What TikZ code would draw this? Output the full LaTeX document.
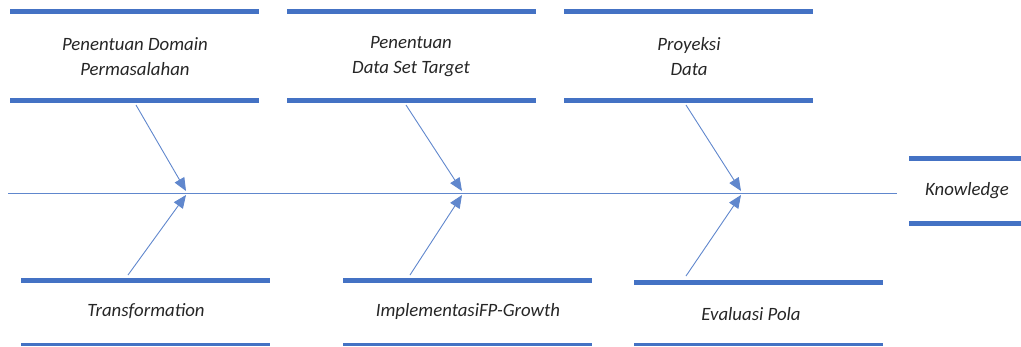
\documentclass[tikz,border=0pt]{standalone}
\usepackage{fontspec}
\setmainfont{Carlito}
\usepackage{tikz}
\usetikzlibrary{arrows.meta}
\definecolor{barblue}{HTML}{4472C4}
\definecolor{txtgray}{HTML}{262626}
\tikzstyle{causetext} = [text=txtgray,
font=\itshape\fontsize{18.8}{25}\selectfont,
align=center,
inner sep=0pt]
\tikzstyle{bar} = [barblue, line width=5pt]
\tikzstyle{thinbar} = [barblue, line width=3pt]
\tikzstyle{spine} = [barblue!85, line width=1pt]
\tikzstyle{arrow} = [barblue!85, line width=0.9pt,
-{Triangle[length=13pt,width=11pt]}]

\begin{document}
\begin{tikzpicture}[x=1pt, y=-1pt]
\useasboundingbox (0,0) rectangle (1021,346);

% cause boxes above the spine
\node (domain) [causetext] at (135,56.5) {Penentuan Domain\\Permasalahan};
\node (target) [causetext] at (411,56.5) {Penentuan\\Data Set Target};
\node (proyeksi) [causetext] at (689,56.5) {Proyeksi\\Data};
\draw [bar] (10,11) -- (259,11);
\draw [bar] (10,100) -- (259,100);
\draw [bar] (287,11) -- (536,11);
\draw [bar] (287,100) -- (536,100);
\draw [bar] (564,11) -- (813,11);
\draw [bar] (564,100) -- (813,100);

% cause boxes below the spine
\node (transform) [causetext] at (146,311) {Transformation};
\node (fpgrowth) [causetext] at (468,311) {ImplementasiFP-Growth};
\node (evaluasi) [causetext] at (751,314) {Evaluasi Pola};
\draw [bar] (21,280) -- (270,280);
\draw [thinbar] (21,344) -- (270,344);
\draw [bar] (343,280) -- (592,280);
\draw [thinbar] (343,344) -- (592,344);
\draw [bar] (634,282) -- (883,282);
\draw [thinbar] (634,344) -- (883,344);

% effect
\node (knowledge) [causetext] at (967,191) {Knowledge};
\draw [bar] (909,158) -- (1021,158);
\draw [bar] (909,223) -- (1021,223);

% spine and bones
\coordinate (tail) at (8,193);
\coordinate (head) at (897,193);
\draw [spine] (tail) -- (head);

\coordinate (domainfoot) at (136,105);
\coordinate (targetfoot) at (406,105);
\coordinate (proyeksifoot) at (686,105);
\coordinate (transformtop) at (128,275);
\coordinate (fpgrowthtop) at (410,275);
\coordinate (evaluasitop) at (686,276);
\coordinate (j1a) at (186,191);
\coordinate (j1b) at (186,195);
\coordinate (j2a) at (462,191);
\coordinate (j2b) at (462,195);
\coordinate (j3a) at (741,191);
\coordinate (j3b) at (741,195);

\draw [arrow] (domainfoot) -- (j1a);
\draw [arrow] (transformtop) -- (j1b);
\draw [arrow] (targetfoot) -- (j2a);
\draw [arrow] (fpgrowthtop) -- (j2b);
\draw [arrow] (proyeksifoot) -- (j3a);
\draw [arrow] (evaluasitop) -- (j3b);

\end{tikzpicture}
\end{document}
